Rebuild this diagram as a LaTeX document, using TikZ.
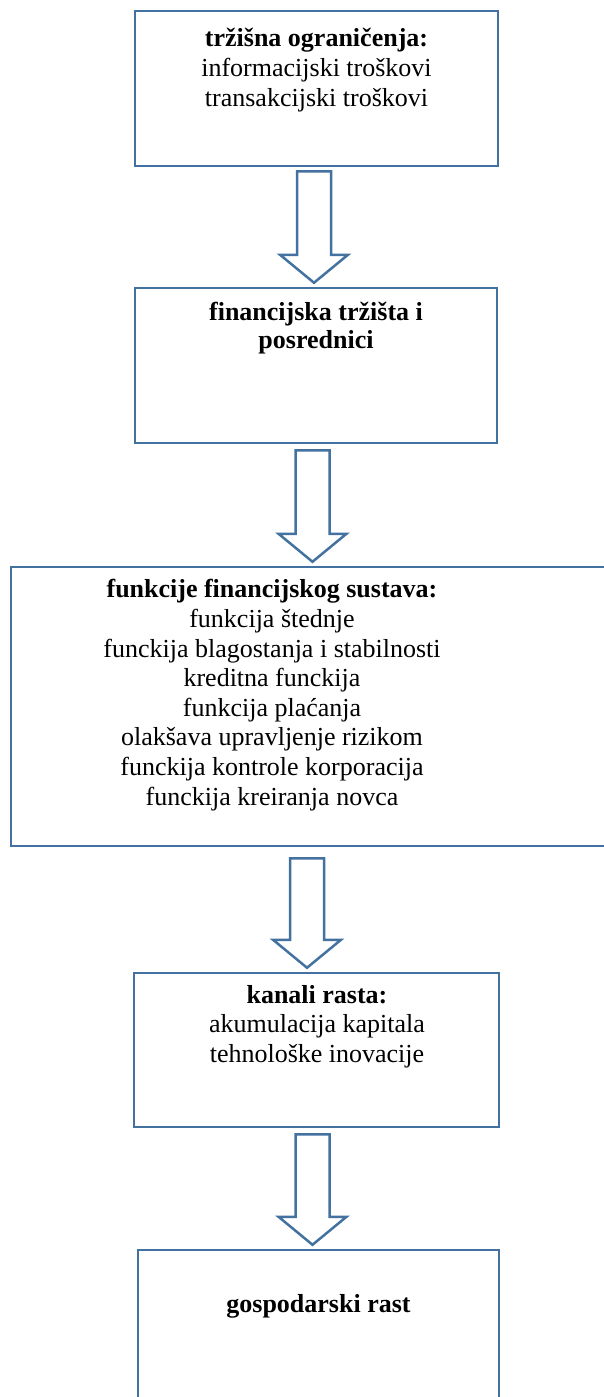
\documentclass[tikz,border=0pt]{standalone}
\usepackage{fontspec}
\setmainfont{Liberation Serif}
\usetikzlibrary{calc}
\definecolor{boxline}{RGB}{68,114,160}

% block arrow from the bottom of one box to the top of the next
% #1 upper box, #2 lower box, #3 x offset (px), #4 gap below upper box
\newcommand{\blockarrow}[4]{%
  \draw[flow] let \p1=($(#1.south)+(#3,0)$), \p2=(#2.north) in
    (\x1-8.5pt,\y1-#4) -- (\x1+8.5pt,\y1-#4) -- (\x1+8.5pt,\y2+16pt)
    -- (\x1+17pt,\y2+16pt) -- (\x1,\y2+2pt) -- (\x1-17pt,\y2+16pt)
    -- (\x1-8.5pt,\y2+16pt) -- cycle;}

\begin{document}
\begin{tikzpicture}[
  x=0.5pt, y=-0.5pt,
  box/.style={draw=boxline, line width=1.25pt, fill=white, inner sep=0pt,
              minimum width=181pt, minimum height=77.5pt},
  txt/.style={anchor=north, align=center, inner sep=0pt,
              font=\fontsize{13}{14.8}\selectfont,
              execute at begin node=\strut},
  flow/.style={draw=boxline, line width=1.25pt, fill=white, line join=miter}
]
\useasboundingbox (0,0) rectangle (604,1397);

% ---- boxes
\node[box, minimum width=181.5pt] (trz) at (316.5,88.5) {};
\node[box] (fin) at (316,365.5) {};
\node[box, minimum width=307pt, minimum height=139.5pt] (fun) at (318,706.5) {};
\node[box, minimum width=182.5pt, minimum height=77pt] (kan) at (316.5,1050) {};
\node[box, minimum width=180.5pt, minimum height=85pt] (gos) at (318.5,1335) {};

% ---- texts
\node[txt] (trztxt) at ($(trz.north)+(0,18.5)$)
  {\textbf{tržišna ograničenja:}\\ informacijski troškovi\\
   transakcijski troškovi};
\node[txt, font=\fontsize{13}{14.2}\selectfont\bfseries] (fintxt)
  at ($(fin.north)+(0,15)$)
  {financijska tržišta i\\ posrednici};
\node[txt] (funtxt) at ($(fun.north)+(-46,13.5)$)
  {\textbf{funkcije financijskog sustava:}\\ funkcija štednje\\
   funckija blagostanja i stabilnosti\\ kreditna funckija\\
   funkcija plaćanja\\ olakšava upravljenje rizikom\\
   funckija kontrole korporacija\\ funckija kreiranja novca};
\node[txt] (kantxt) at ($(kan.north)+(0.5,13)$)
  {\textbf{kanali rasta:}\\ akumulacija kapitala\\ tehnološke inovacije};
\node[txt] (gostxt) at ($(gos.north)+(0,43)$)
  {\textbf{gospodarski rast}};

% ---- arrows
\blockarrow{trz}{fin}{-2.5}{2pt}
\blockarrow{fin}{fun}{-3.5}{3pt}
\blockarrow{fun}{kan}{-11}{5.5pt}
\blockarrow{kan}{gos}{-4}{3pt}
\end{tikzpicture}
\end{document}
